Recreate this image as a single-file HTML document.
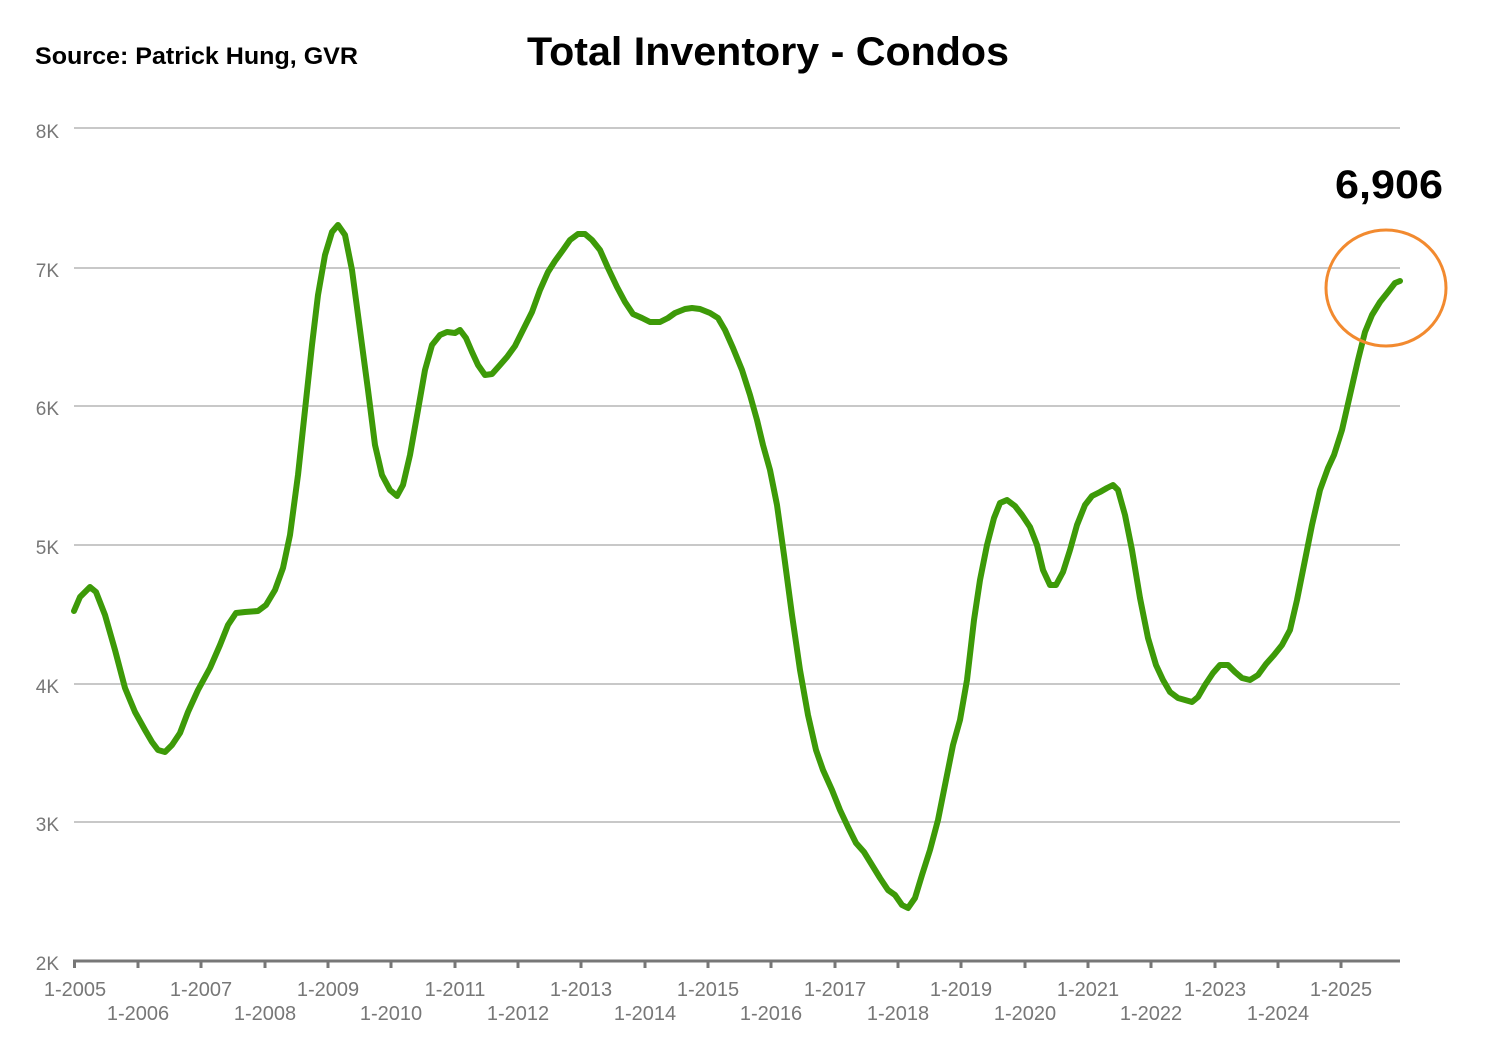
<!DOCTYPE html>
<html><head><meta charset="utf-8"><style>html,body{margin:0;padding:0;background:#fff}svg{display:block}</style></head>
<body>
<svg width="1501" height="1056" xmlns="http://www.w3.org/2000/svg" font-family="Liberation Sans, sans-serif">
<rect width="1501" height="1056" fill="#fff"/>
<text x="35" y="64" font-size="24" font-weight="bold" textLength="323" lengthAdjust="spacingAndGlyphs">Source:  Patrick Hung, GVR</text>
<text x="527" y="65" font-size="40" font-weight="bold" textLength="482" lengthAdjust="spacingAndGlyphs">Total Inventory - Condos</text>
<g stroke="#c8c8c8" stroke-width="2">
<line x1="74" y1="128" x2="1400" y2="128"/><line x1="74" y1="268" x2="1400" y2="268"/><line x1="74" y1="406" x2="1400" y2="406"/><line x1="74" y1="545" x2="1400" y2="545"/><line x1="74" y1="684" x2="1400" y2="684"/><line x1="74" y1="822" x2="1400" y2="822"/>
</g>
<g fill="#777" font-size="19" text-anchor="end">
<text x="59" y="138">8K</text><text x="59" y="277">7K</text><text x="59" y="415">6K</text><text x="59" y="554">5K</text><text x="59" y="693">4K</text><text x="59" y="831">3K</text><text x="59" y="970">2K</text>
</g>
<line x1="73" y1="961" x2="1400" y2="961" stroke="#777" stroke-width="3"/>
<g stroke="#777" stroke-width="3">
<line x1="74.5" y1="961" x2="74.5" y2="968"/><line x1="138" y1="961" x2="138" y2="968"/><line x1="201" y1="961" x2="201" y2="968"/><line x1="265" y1="961" x2="265" y2="968"/><line x1="328" y1="961" x2="328" y2="968"/><line x1="391" y1="961" x2="391" y2="968"/><line x1="455" y1="961" x2="455" y2="968"/><line x1="518" y1="961" x2="518" y2="968"/><line x1="581" y1="961" x2="581" y2="968"/><line x1="645" y1="961" x2="645" y2="968"/><line x1="708" y1="961" x2="708" y2="968"/><line x1="771" y1="961" x2="771" y2="968"/><line x1="835" y1="961" x2="835" y2="968"/><line x1="898" y1="961" x2="898" y2="968"/><line x1="961" y1="961" x2="961" y2="968"/><line x1="1025" y1="961" x2="1025" y2="968"/><line x1="1088" y1="961" x2="1088" y2="968"/><line x1="1151" y1="961" x2="1151" y2="968"/><line x1="1215" y1="961" x2="1215" y2="968"/><line x1="1278" y1="961" x2="1278" y2="968"/><line x1="1341" y1="961" x2="1341" y2="968"/>
</g>
<g fill="#777" font-size="20" text-anchor="middle">
<text x="75" y="996">1-2005</text><text x="201" y="996">1-2007</text><text x="328" y="996">1-2009</text><text x="455" y="996">1-2011</text><text x="581" y="996">1-2013</text><text x="708" y="996">1-2015</text><text x="835" y="996">1-2017</text><text x="961" y="996">1-2019</text><text x="1088" y="996">1-2021</text><text x="1215" y="996">1-2023</text><text x="1341" y="996">1-2025</text>
<text x="138" y="1020">1-2006</text><text x="265" y="1020">1-2008</text><text x="391" y="1020">1-2010</text><text x="518" y="1020">1-2012</text><text x="645" y="1020">1-2014</text><text x="771" y="1020">1-2016</text><text x="898" y="1020">1-2018</text><text x="1025" y="1020">1-2020</text><text x="1151" y="1020">1-2022</text><text x="1278" y="1020">1-2024</text>
</g>
<polyline fill="none" stroke="#3d9a08" stroke-width="6" stroke-linejoin="round" stroke-linecap="round" points="74,611 80,597 90,587 96,592 105,615 115,650 125,688 135,712 145,730 152,742 158,750 165,752 172,745 180,733 188,712 198,690 210,668 220,645 228,625 236,613 245,612 258,611 266,605 275,590 283,568 290,535 298,475 305,410 312,345 318,295 325,255 332,232 338,225 345,235 352,270 360,330 368,390 375,445 382,475 390,490 397,496 403,485 410,455 418,410 425,370 432,345 440,335 447,332 455,333 460,330 466,338 472,352 478,365 485,375 492,374 500,365 507,357 515,346 522,332 532,312 540,290 548,272 555,261 563,250 570,240 578,234 585,234 592,240 600,250 608,268 617,287 625,302 633,314 642,318 650,322 660,322 668,318 675,313 685,309 692,308 700,309 710,313 718,318 725,330 733,348 742,370 750,395 757,420 763,445 770,470 777,505 784,555 792,615 800,670 808,715 816,750 823,770 832,790 840,810 848,827 856,843 864,852 872,865 880,878 888,890 895,895 902,905 908,908 915,898 922,875 930,850 938,820 946,780 953,745 960,720 967,680 974,620 980,580 987,545 994,518 1000,503 1007,500 1015,506 1022,515 1030,527 1037,545 1043,570 1050,585 1056,585 1063,572 1070,550 1077,525 1085,505 1092,496 1100,492 1107,488 1113,485 1118,490 1125,515 1132,550 1140,598 1148,638 1156,665 1163,680 1170,692 1178,698 1185,700 1192,702 1198,697 1205,685 1213,673 1220,665 1228,665 1235,672 1242,678 1250,680 1258,675 1266,664 1274,655 1282,645 1290,630 1297,600 1305,560 1312,525 1320,490 1328,468 1334,455 1342,430 1350,395 1358,360 1365,332 1372,315 1380,302 1388,292 1395,283 1400,281"/>
<ellipse cx="1386" cy="288" rx="60" ry="58" fill="none" stroke="#f28a2f" stroke-width="3"/>
<text x="1335" y="198" font-size="40" font-weight="bold" textLength="108" lengthAdjust="spacingAndGlyphs">6,906</text>
</svg>
</body></html>
